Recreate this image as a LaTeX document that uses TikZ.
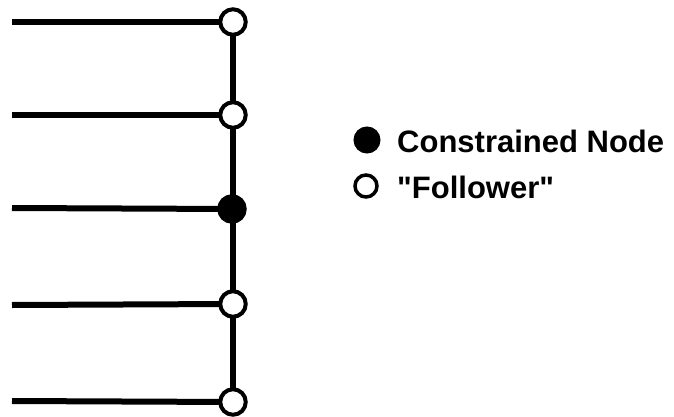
\documentclass[tikz,border=0pt]{standalone}
\usepackage{fontspec}
\setmainfont{Liberation Sans}[Ligatures=TeXOff]
\begin{document}
\begin{tikzpicture}[x=1pt,y=-1pt,
  wire/.style={line width=6pt},
  follower/.style={circle,draw,fill=white,line width=4pt,minimum size=25.5pt,inner sep=0pt},
  constrained/.style={circle,draw,fill=black,line width=4pt,minimum size=25.5pt,inner sep=0pt},
  legendtext/.style={anchor=west,font=\fontsize{31}{31}\selectfont\bfseries,inner sep=0pt}]
\useasboundingbox (0,0) rectangle (674,417);
% free ends of the incoming members
\coordinate (l1) at (12,22);
\coordinate (l2) at (12,115);
\coordinate (l3) at (12,208);
\coordinate (l4) at (12,305);
\coordinate (l5) at (12,401);
% nodes on the vertical member
\coordinate (n1) at (233,22);
\coordinate (n2) at (233,115);
\coordinate (n3) at (232,209);
\coordinate (n4) at (233,304);
\coordinate (n5) at (233,402);
\draw[wire] (n1) -- (n5);
\foreach \i in {1,...,5} \draw[wire] (l\i) -- (n\i);
\node[follower] (f1) at (n1) {};
\node[follower] (f2) at (n2) {};
\node[constrained] (c3) at (n3) {};
\node[follower] (f4) at (n4) {};
\node[follower] (f5) at (n5) {};
% legend
\node[constrained,minimum size=24pt,line width=3pt] (lc) at (367,140) {};
\node[follower,minimum size=22pt,line width=3.5pt] (lf) at (366,186) {};
\node[legendtext] (tc) at (397,141) {Constrained Node};
\node[legendtext] (tf) at (397,187) {"Follower"};
\end{tikzpicture}
\end{document}
